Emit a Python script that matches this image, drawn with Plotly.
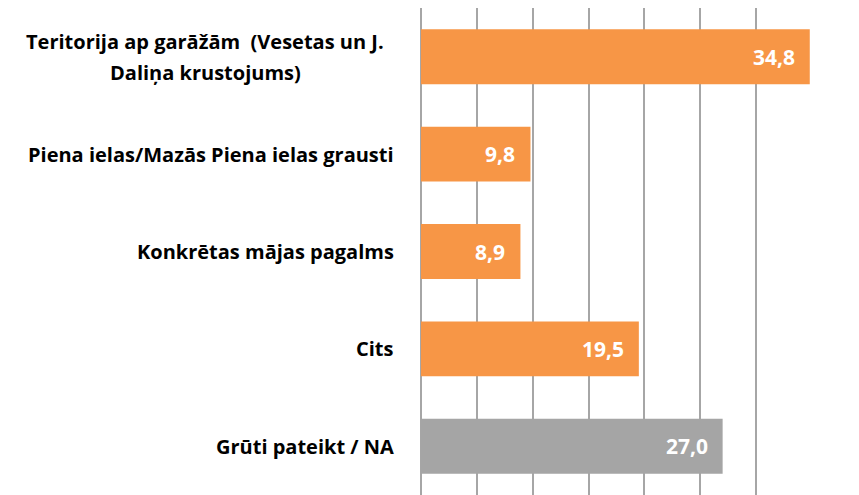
import plotly.graph_objects as go

categories = [
    "Teritorija ap garāžām  (Vesetas un J.<br>Daliņa krustojums)",
    "Piena ielas/Mazās Piena ielas grausti",
    "Konkrētas mājas pagalms",
    "Cits",
    "Grūti pateikt / NA",
]
values = [34.8, 9.8, 8.9, 19.5, 27.0]
value_labels = ["34,8", "9,8", "8,9", "19,5", "27,0"]
colors = ["#F79646", "#F79646", "#F79646", "#F79646", "#A5A5A5"]

fig = go.Figure()
fig.add_trace(go.Bar(
    x=values,
    y=categories,
    orientation="h",
    marker=dict(color=colors, line=dict(width=0)),
    width=0.564,
    hoverinfo="skip",
))

LINE_H = 31
for cat, v, lab in zip(categories, values, value_labels):
    fig.add_annotation(
        x=v, y=cat, xref="x", yref="y",
        text=f"<b>{lab}</b>", showarrow=False,
        xanchor="right", yanchor="middle", xshift=-13,
        font=dict(family="Open Sans", size=21, color="white"),
    )
    lines = cat.split("<br>")
    n = len(lines)
    for i, line in enumerate(lines):
        fig.add_annotation(
            x=0, y=cat, xref="x", yref="y",
            text=f"<b>{line}</b>", showarrow=False,
            xanchor="right" if n == 1 else "center",
            yanchor="middle",
            xshift=-25 if n == 1 else -216,
            yshift=((n - 1) / 2 - i) * LINE_H,
            font=dict(family="Open Sans", size=20, color="#000000"),
        )

fig.update_layout(
    width=851, height=487,
    margin=dict(l=413, r=47, t=0, b=0),
    plot_bgcolor="white", paper_bgcolor="white",
    showlegend=False,
)
fig.update_xaxes(
    range=[0, 35], dtick=5, showgrid=True, gridcolor="#A6A6A6", gridwidth=1.5,
    zeroline=True, zerolinecolor="#A6A6A6", zerolinewidth=1.5,
    showticklabels=False, showline=False, fixedrange=True,
)
fig.update_yaxes(
    autorange="reversed", showticklabels=False, showgrid=False,
    showline=False, zeroline=False, fixedrange=True,
)

fig.write_html("out.html")
